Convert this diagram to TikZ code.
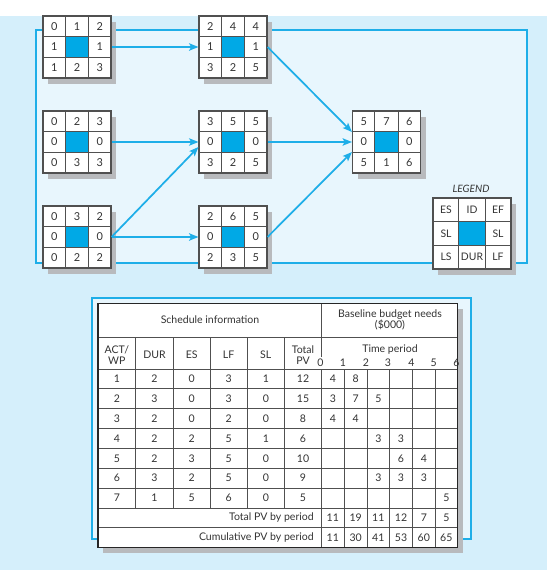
\documentclass[tikz,border=0pt]{standalone}
\usepackage{fontspec}
\setmainfont{Lato}
\usetikzlibrary{calc,arrows.meta,shadows}
\definecolor{bgout}{HTML}{D5EFFB}
\definecolor{bgin}{HTML}{E8F6FD}
\definecolor{frameblue}{HTML}{1EAEE8}
\definecolor{cellblue}{HTML}{00A9E6}
\definecolor{arrowblue}{HTML}{1EAEE8}
\definecolor{shadowgray}{HTML}{B8BABD}
\definecolor{gridc}{HTML}{505050}
\definecolor{txt}{HTML}{333333}
\tikzset{
  actbox/.style={draw=gridc, fill=white, line width=0.8pt, inner sep=0pt,
    minimum width=51pt, minimum height=46.5pt,
    drop shadow={shadow xshift=4pt, shadow yshift=-4.5pt, fill=shadowgray, opacity=1}},
  legbox/.style={actbox, minimum width=58.5pt, minimum height=53.25pt},
  gline/.style={draw=gridc, line width=0.7pt},
  val/.style={text=txt, font=\fontsize{8.2}{9}\selectfont, inner sep=0pt},
  legval/.style={text=txt, font=\fontsize{7.8}{8}\selectfont, inner sep=0pt},
  tv/.style={text=txt, font=\fontsize{7.9}{8.8}\selectfont, inner sep=0pt, align=center},
  link/.style={draw=arrowblue, line width=1.3pt, -{Stealth[length=7pt,width=5.5pt,inset=1.5pt]}},
  tline/.style={draw=gridc, line width=0.6pt},
}
\newcommand\actvals[9]{%
  \fill[cellblue] ($(#1)+(-11.33,-10.33)$) rectangle ($(#1)+(11.33,10.33)$);
  \draw[gline] ($(#1.north west)+(22.67,0)$) -- ($(#1.south west)+(22.67,0)$);
  \draw[gline] ($(#1.north east)+(-22.67,0)$) -- ($(#1.south east)+(-22.67,0)$);
  \draw[gline] ($(#1.north west)+(0,20.67)$) -- ($(#1.north east)+(0,20.67)$);
  \draw[gline] ($(#1.south west)+(0,-20.67)$) -- ($(#1.south east)+(0,-20.67)$);
  \node[val] (#1-a) at ($(#1)+(-22.67,-20.67)$) {#2};
  \node[val] (#1-b) at ($(#1)+(0,-20.67)$) {#3};
  \node[val] (#1-c) at ($(#1)+(22.67,-20.67)$) {#4};
  \node[val] (#1-d) at ($(#1)+(-22.67,0)$) {#5};
  \node[val] (#1-e) at ($(#1)+(22.67,0)$) {#6};
  \node[val] (#1-f) at ($(#1)+(-22.67,20.67)$) {#7};
  \node[val] (#1-g) at ($(#1)+(0,20.67)$) {#8};
  \node[val] (#1-h) at ($(#1)+(22.67,20.67)$) {#9};
}
\begin{document}
\begin{tikzpicture}[x=0.75pt,y=-0.75pt]
\useasboundingbox (0,0) rectangle (547,570);
\fill[white] (0,0) rectangle (547,16);
\fill[bgout] (0,16) rectangle (547,570);
% top frame
\filldraw[fill=bgin, draw=frameblue, line width=0.9pt] (36,30) rectangle (527,263);

% activity boxes
\node[actbox] (n1) at (77,47) {};
\node[actbox] (n2) at (233,47) {};
\node[actbox] (n3) at (77,142) {};
\node[actbox] (n4) at (233,142) {};
\node[actbox] (n5) at (77,237) {};
\node[actbox] (n6) at (233,237) {};
\node[actbox] (n7) at (386.5,142) {};
\actvals{n1}{0}{1}{2}{1}{1}{1}{2}{3}
\actvals{n2}{2}{4}{4}{1}{1}{3}{2}{5}
\actvals{n3}{0}{2}{3}{0}{0}{0}{3}{3}
\actvals{n4}{3}{5}{5}{0}{0}{3}{2}{5}
\actvals{n5}{0}{3}{2}{0}{0}{0}{2}{2}
\actvals{n6}{2}{6}{5}{0}{0}{2}{3}{5}
\actvals{n7}{5}{7}{6}{0}{0}{5}{1}{6}

% legend
\node[text=txt, font=\fontsize{7.6}{8}\selectfont\itshape, inner sep=0pt] (legtitle) at (471,189) {LEGEND};
\node[legbox] (leg) at (472,233.5) {};
\fill[cellblue] ($(leg)+(-13,-11.83)$) rectangle ($(leg)+(13,11.83)$);
\draw[gline] ($(leg.north west)+(26,0)$) -- ($(leg.south west)+(26,0)$);
\draw[gline] ($(leg.north east)+(-26,0)$) -- ($(leg.south east)+(-26,0)$);
\draw[gline] ($(leg.north west)+(0,23.67)$) -- ($(leg.north east)+(0,23.67)$);
\draw[gline] ($(leg.south west)+(0,-23.67)$) -- ($(leg.south east)+(0,-23.67)$);
\node[legval] (leg-a) at ($(leg)+(-26,-23.67)$) {ES};
\node[legval] (leg-b) at ($(leg)+(0,-23.67)$) {ID};
\node[legval] (leg-c) at ($(leg)+(26,-23.67)$) {EF};
\node[legval] (leg-d) at ($(leg)+(-26,0)$) {SL};
\node[legval] (leg-e) at ($(leg)+(26,0)$) {SL};
\node[legval] (leg-f) at ($(leg)+(-26,23.67)$) {LS};
\node[legval] (leg-g) at ($(leg)+(0,23.67)$) {DUR};
\node[legval] (leg-h) at ($(leg)+(26,23.67)$) {LF};

% connectors
\draw[link, line width=1.7pt] (n1.east) -- (n2.west);
\draw[link] (n2.east) -- ($(n7.west)+(0,-10)$);
\draw[link] (n3.east) -- (n4.west);
\draw[link] (n5.east) -- ($(n4.west)+(0,5)$);
\draw[link, line width=1.6pt] (n5.east) -- (n6.west);
\draw[link, line width=1.6pt] (n4.east) -- (n7.west);
\draw[link] (n6.east) -- ($(n7.west)+(0,10)$);

% table frame
\filldraw[fill=bgin, draw=frameblue, line width=0.9pt] (92,298) rectangle (471,539);
% table shadow and body
\fill[shadowgray] (103,308.5) rectangle (463,553);
\fill[white] (98,303.3) rectangle (457.7,547.7);
% horizontal lines
\draw[tline] (98,337) -- (457.7,337);
\draw[tline] (98,369) -- (457.7,369);
\foreach \k in {1,...,8} {
  \draw[tline] (98,{369+19.85*\k}) -- (457.7,{369+19.85*\k});
}
% vertical lines (schedule)
\foreach \x in {135.7,173.3,210,247.3,284.3} {
  \draw[tline] (\x,337) -- (\x,507.95);
}
\draw[tline] (321.7,303.3) -- (321.7,357);
\draw[tline] (321.7,369) -- (321.7,547.7);
\foreach \x in {344,367.3,389.3,412.7,435} {
  \draw[tline] (\x,369) -- (\x,547.7);
}
% outer border
\draw[draw=black!85, line width=1.1pt] (98,303.3) rectangle (457.7,547.7);

% header texts
\node[tv] (hsched) at (210,320) {Schedule information};
\node[tv] (hbase) at (390,320) {Baseline budget needs\\[-1pt](\$000)};
\node[tv] (htime) at (390,349.5) {Time period};
\node[tv] (hact) at (116.85,355) {ACT/\\[-1pt]WP};
\node[tv] (hdur) at (154.5,355) {DUR};
\node[tv] (hes) at (191.65,355) {ES};
\node[tv] (hlf) at (228.65,355) {LF};
\node[tv] (hsl) at (265.8,355) {SL};
\node[tv] (hpv) at (303,355) {Total\\[-1pt]PV};
\foreach \x/\t in {320.5/0,342.8/1,366/2,388/3,411.3/4,433.6/5,456.5/6} {
  \node[tv] at (\x,362.5) {\t};
}
% schedule rows
\foreach \a/\b/\c/\d/\e/\f [count=\i] in {1/2/0/3/1/12, 2/3/0/3/0/15, 3/2/0/2/0/8, 4/2/2/5/1/6, 5/2/3/5/0/10, 6/3/2/5/0/9, 7/1/5/6/0/5} {
  \pgfmathsetmacro\yy{369+19.85*(\i-0.5)}
  \node[tv] at (116.85,\yy) {\a};
  \node[tv] at (154.5,\yy) {\b};
  \node[tv] at (191.65,\yy) {\c};
  \node[tv] at (228.65,\yy) {\d};
  \node[tv] at (265.8,\yy) {\e};
  \node[tv] at (303,\yy) {\f};
}
% time entries
\foreach \x/\r/\v in {332.85/1/4, 355.65/1/8,
  332.85/2/3, 355.65/2/7, 378.3/2/5,
  332.85/3/4, 355.65/3/4,
  378.3/4/3, 401/4/3,
  401/5/6, 423.85/5/4,
  378.3/6/3, 401/6/3, 423.85/6/3,
  446.35/7/5,
  332.85/8/11, 355.65/8/19, 378.3/8/11, 401/8/12, 423.85/8/7, 446.35/8/5,
  332.85/9/11, 355.65/9/30, 378.3/9/41, 401/9/53, 423.85/9/60, 446.35/9/65} {
  \node[tv] at (\x,{369+19.85*(\r-0.5)}) {\v};
}
\node[tv, anchor=east] (totpv) at (314,{369+19.85*7.5}) {Total PV by period};
\node[tv, anchor=east] (cumpv) at (314,{369+19.85*8.5}) {Cumulative PV by period};
\end{tikzpicture}
\end{document}
